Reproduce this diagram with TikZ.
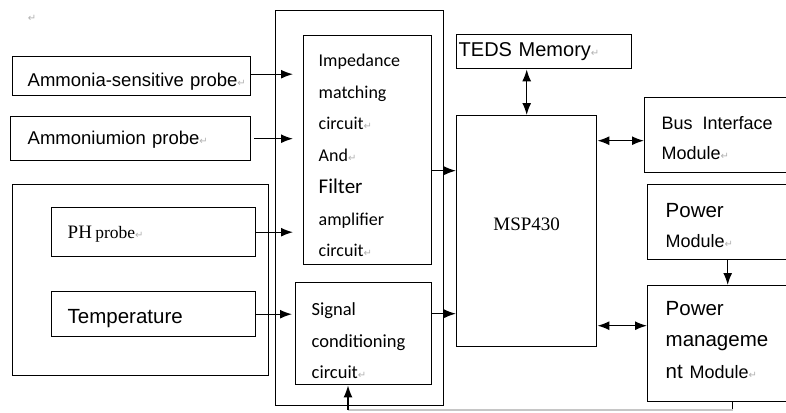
\documentclass[tikz,border=0pt]{standalone}
\usepackage{fontspec}
\usepackage{xcolor}
\usepackage{tikz}
\usetikzlibrary{positioning,arrows.meta}
\setmainfont{Liberation Sans}
\newfontfamily\serif{Liberation Serif}
\newfontfamily\calib{Carlito}
\newfontfamily\markfont{DejaVu Sans}
\newcommand{\fsz}[1]{\fontsize{#1}{#1}\selectfont}
\newcommand{\pmark}{{\markfont\fontsize{10}{10}\selectfont\color{gray!60}↵}}
\newcommand{\lift}[1]{\rule{0pt}{#1}}

\begin{document}
\begin{tikzpicture}[x=1pt,y=-1pt,>={Latex[length=12pt,width=9pt]},line width=1.4pt,
	box/.style={draw,anchor=north west,align=left,inner ysep=0pt,inner xsep=0pt}]
	\clip[use as bounding box] (0,0) rectangle (786,412);
	\node (stray) at (32,18) {\pmark};
	% probes
	\node[box,minimum width=238pt,minimum height=39pt,inner xsep=15pt,text width=208pt,text height=30pt,text depth=9pt,font=\fsz{18.5}] (ammonia) at (12,56) {\mbox{Ammonia-sensitive probe\pmark}};
	\node[box,minimum width=240pt,minimum height=44pt,inner xsep=17pt,text width=206pt,text height=28pt,text depth=16pt,font=\fsz{18.5}] (ammonium) at (10,116) {\mbox{Ammoniumion probe\pmark}};
	\node[box,minimum width=256pt,minimum height=191pt] (pgroup) at (12,184) {};
	\node[box,minimum width=204pt,minimum height=49pt,inner xsep=16pt,text width=172pt,text height=31pt,text depth=18pt] (ph) at (51,207) {\mbox{\serif\fsz{19}PH {\fsz{17.5}probe}\pmark}};
	\node[box,minimum width=204pt,minimum height=45pt,inner xsep=16pt,text width=172pt,text height=32pt,text depth=13pt,font=\fsz{20.5}] (temp) at (51,291) {Temperature};
	% conditioning
	\node[box,minimum width=168pt,minimum height=395pt] (amp) at (275,10) {};
	\node[box,minimum width=128pt,minimum height=229pt,inner xsep=15pt,text width=98pt,font=\calib\fontsize{18}{31.7}\selectfont] (imp) at (303,35)
		{\lift{23pt}Impedance\\matching\\circuit\pmark\\And\pmark\\{\fsz{21}Filter}\\amplifier\\circuit\pmark};
	\node[box,minimum width=136pt,minimum height=102pt,inner xsep=16pt,text width=104pt,font=\calib\fontsize{18.5}{31.5}\selectfont] (sig) at (295,282)
		{\lift{27pt}Signal\\conditioning\\circuit\pmark};
	% controller
	\node[box,minimum width=175pt,minimum height=34pt,inner xsep=2pt,text width=171pt,text height=22pt,text depth=12pt,font=\fsz{20}] (teds) at (456,34) {TEDS Memory\pmark};
	\node[box,minimum width=140pt,minimum height=231pt,text width=140pt,align=center,text height=115pt,text depth=116pt,font=\serif\fsz{19}] (msp) at (456,115) {MSP430};
	\node[box,minimum width=163pt,minimum height=75pt,inner xsep=17pt,text width=129pt,font=\fontsize{18}{30}\selectfont] (bus) at (644,97)
		{\lift{19pt}Bus\hspace{10pt}Interface\\Module\pmark};
	\node[box,minimum width=160pt,minimum height=75pt,inner xsep=18pt,text width=124pt,font=\fontsize{20.5}{30}\selectfont] (pwr) at (647,184)
		{\lift{20pt}Power\\{\fsz{18}Module}\pmark};
	\node[box,minimum width=160pt,minimum height=116pt,inner xsep=18pt,text width=124pt,font=\fontsize{20.5}{31.5}\selectfont] (pm) at (647,285)
		{Power\\manageme\\nt {\fsz{18}Module}\pmark\rule[-8pt]{0pt}{8pt}};
	\coordinate (fb) at (348,410);

	\draw[->,shorten >=10pt] ([yshift=2pt]ammonia.east) -- ([yshift=2pt]ammonia.east -| imp.west);
	\draw[->,shorten <=3pt,shorten >=10pt] (ammonium.east) -- (ammonium.east -| imp.west);
	\draw[->,shorten >=10pt] (ph.east) -- (ph.east -| imp.west);
	\draw[->,shorten >=3pt] (temp.east) -- (temp.east -| sig.west);
	\draw[->] ([yshift=-20.5pt]imp.east) -- ([yshift=-20.5pt]imp.east -| msp.west);
	\draw[->] ([yshift=20pt]sig.east) -- ([yshift=20pt]sig.east -| msp.west);
	\draw[<->] (msp.north |- teds.south) -- (msp.north);
	\draw[<->] ([yshift=-5.5pt]bus.west -| msp.east) -- ([yshift=-5.5pt]bus.west);
	\draw[->] (pwr.south) -- (pm.north);
	\draw[<->] ([yshift=18pt]pm.west -| msp.east) -- ([yshift=18pt]pm.west);
	\draw ([xshift=5pt]pm.south) -- ([xshift=5pt]pm.south |- fb);
	\draw[gray!45] ([xshift=5pt]pm.south |- fb) -- (fb);
	\draw[->] (fb) -- (fb |- sig.south);
\end{tikzpicture}
\end{document}
